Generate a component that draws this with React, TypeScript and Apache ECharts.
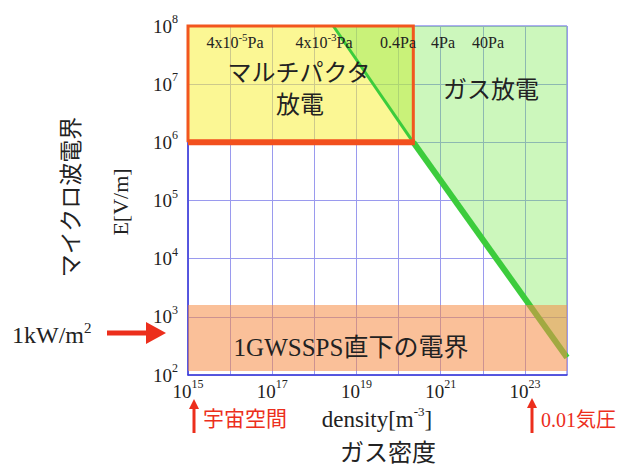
import React, { useEffect, useRef } from "react";
import * as echarts from "echarts";

// ---- data (density [m^-3], E [V/m]) ----
const xMin = 1e15;
const xMax = 1e24;
const yMin = 1e2;
const yMax = 1e8;
const xLabelExponents = [15, 17, 19, 21, 23];
const yLabelExponents = [2, 3, 4, 5, 6, 7, 8];

// breakdown line (gas discharge boundary)
const lineUpper: [number, number][] = [
  [2.82e18, 1e8],
  [2.24e20, 1e6],
];
const lineLower: [number, number][] = [
  [2.24e20, 1e6],
  [1e24, 200],
];
// gas discharge region (right of the line)
const gasRegion: [number, number][] = [
  [2.82e18, 1e8],
  [1e24, 1e8],
  [1e24, 200],
  [2.24e20, 1e6],
];
// multipactor box
const multipactorBox: [number, number][] = [
  [1e15, 1e6],
  [2.24e20, 1e8],
];
// field under 1GW SSPS
const sspsBand: [number, number][] = [
  [1e15, 117],
  [1e24, 1600],
];

const SERIF = "'Liberation Serif', 'DejaVu Serif', serif";
const JP = "'Noto Sans CJK JP', sans-serif";
const MIX = "'Liberation Serif', 'Noto Sans CJK JP', serif";
const RED = "#ec2e1c";

function polyItem(pts: [number, number][], style: any) {
  return (params: any, api: any) => ({
    type: "polygon",
    shape: { points: pts.map((p) => api.coord(p)) },
    style,
  });
}

function rectPts(box: [number, number][]): [number, number][] {
  const [[x0, y0], [x1, y1]] = box;
  return [
    [x0, y0],
    [x0, y1],
    [x1, y1],
    [x1, y0],
  ];
}

function supLabel(exp: number) {
  return `{b|10}{s|${exp}}`;
}

export default function App() {
  const ref = useRef<HTMLDivElement>(null);
  useEffect(() => {
    document.body.style.margin = "0";
    const chart = echarts.init(ref.current!, null, { renderer: "svg" });
    const supRich = {
      b: { fontFamily: SERIF, fontSize: 19, color: "#222", lineHeight: 26 },
      s: { fontFamily: SERIF, fontSize: 12, color: "#222", lineHeight: 12, verticalAlign: "top" },
    };
    const txtRich = (size: number, sup: number, color = "#222") => ({
      n: { fontFamily: SERIF, fontSize: size, fill: color, lineHeight: size + 6 },
      s: { fontFamily: SERIF, fontSize: sup, fill: color, lineHeight: sup, verticalAlign: "top" },
    });
    const paLabels: [string, number][] = [
      ["{n|4x10}{s|-5}{n|Pa}", 235],
      ["{n|4x10}{s|-3}{n|Pa}", 324],
      ["{n|0.4Pa}", 398],
      ["{n|4Pa}", 443],
      ["{n|40Pa}", 488],
    ];
    const option: any = {
      animation: false,
      grid: {
        left: 188,
        right: 57,
        top: 26,
        bottom: 94,
        show: true,
        borderColor: "#5a5ae6",
        borderWidth: 1,
        backgroundColor: "transparent",
      },
      xAxis: {
        type: "log",
        logBase: 10,
        min: xMin,
        max: xMax,
        interval: 1,
        axisLine: { show: true, lineStyle: { color: "#3c3cd8", width: 1.5 } },
        axisTick: { show: false },
        splitLine: { show: true, lineStyle: { color: "#9a9aee", width: 1 } },
        axisLabel: {
          margin: 3,
          formatter: (v: number) => {
            const e = Math.round(Math.log10(v));
            return xLabelExponents.includes(e) ? supLabel(e) : "";
          },
          rich: supRich,
        },
      },
      yAxis: {
        type: "log",
        logBase: 10,
        min: yMin,
        max: yMax,
        interval: 1,
        axisLine: { show: true, lineStyle: { color: "#3c3cd8", width: 1.5 } },
        axisTick: { show: false },
        splitLine: { show: true, lineStyle: { color: "#9a9aee", width: 1 } },
        axisLabel: {
          margin: 10,
          formatter: (v: number) => {
            const e = Math.round(Math.log10(v));
            return yLabelExponents.includes(e) ? supLabel(e) : "";
          },
          rich: supRich,
        },
      },
      series: [
        {
          type: "custom",
          z: 1,
          data: [multipactorBox[0]],
          renderItem: polyItem(rectPts(multipactorBox), { fill: "rgba(247,240,60,0.55)" }),
        },
        {
          type: "custom",
          z: 2,
          data: [gasRegion[0]],
          renderItem: polyItem(gasRegion, { fill: "rgba(120,235,80,0.38)" }),
        },
        {
          type: "line",
          z: 3,
          data: lineUpper,
          symbol: "none",
          lineStyle: { color: "#3ccc3c", width: 3 },
        },
        {
          type: "line",
          z: 3,
          data: lineLower,
          symbol: "none",
          lineStyle: { color: "#3ccc3c", width: 6 },
        },
        {
          type: "custom",
          z: 4,
          data: [sspsBand[0]],
          renderItem: polyItem(rectPts(sspsBand), { fill: "rgba(245,140,70,0.55)" }),
        },
        {
          type: "custom",
          z: 5,
          data: [multipactorBox[0]],
          renderItem: (params: any, api: any) => {
            const [[x0, y0], [x1, y1]] = multipactorBox;
            const a = api.coord([x0, y0]);
            const b = api.coord([x0, y1]);
            const c = api.coord([x1, y1]);
            const d = api.coord([x1, y0]);
            return {
              type: "group",
              children: [
                {
                  type: "polyline",
                  shape: { points: [a, b, c, d] },
                  style: { stroke: "#f2561e", lineWidth: 3, fill: "none" },
                },
                {
                  type: "line",
                  shape: { x1: a[0], y1: a[1], x2: d[0] + 1.5, y2: d[1] },
                  style: { stroke: "#f2501e", lineWidth: 6 },
                },
              ],
            };
          },
        },
      ],
      graphic: [
        ...paLabels.map(([t, x]) => ({
          type: "text",
          x,
          y: 42,
          z: 10,
          style: { text: t, rich: txtRich(16, 11), align: "center", verticalAlign: "middle" },
        })),
        { type: "text", x: 299, y: 70, z: 10, style: { text: "マルチパクタ", font: `24px ${JP}`, fill: "#222", align: "center", verticalAlign: "middle" } },
        { type: "text", x: 300, y: 102, z: 10, style: { text: "放電", font: `24px ${JP}`, fill: "#222", align: "center", verticalAlign: "middle" } },
        { type: "text", x: 491, y: 87, z: 10, style: { text: "ガス放電", font: `24px ${JP}`, fill: "#222", align: "center", verticalAlign: "middle" } },
        { type: "text", x: 351, y: 347, z: 10, style: { text: "1GWSSPS直下の電界", font: `25px ${MIX}`, fill: "#222", align: "center", verticalAlign: "middle" } },
        { type: "text", x: 69, y: 197, rotation: Math.PI / 2, style: { text: "マイクロ波電界", font: `23px ${JP}`, fill: "#222", align: "center", verticalAlign: "middle" } },
        { type: "text", x: 120, y: 202, rotation: Math.PI / 2, style: { text: "E[V/m]", font: `22px ${SERIF}`, fill: "#222", align: "center", verticalAlign: "middle" } },
        { type: "text", x: 12, y: 335, style: { text: "{n|1kW/m}{s|2}", rich: txtRich(24, 15), align: "left", verticalAlign: "middle" } },
        { type: "text", x: 377, y: 419, style: { text: "{n|density[m}{s|-3}{n|]}", rich: txtRich(23, 13), align: "center", verticalAlign: "middle" } },
        { type: "text", x: 388, y: 450, style: { text: "ガス密度", font: `24px ${JP}`, fill: "#222", align: "center", verticalAlign: "middle" } },
        { type: "text", x: 203, y: 417, style: { text: "宇宙空間", font: `21px ${JP}`, fill: RED, align: "left", verticalAlign: "middle" } },
        { type: "text", x: 541, y: 420, style: { text: "0.01気圧", font: `20px ${MIX}`, fill: RED, align: "left", verticalAlign: "middle" } },
        // arrows
        { type: "rect", shape: { x: 107, y: 330.5, width: 42, height: 5 }, style: { fill: RED } },
        { type: "polygon", shape: { points: [[146, 322], [166, 333], [146, 344]] }, style: { fill: RED } },
        { type: "rect", shape: { x: 192.5, y: 407, width: 3, height: 26 }, style: { fill: RED } },
        { type: "polygon", shape: { points: [[189, 409], [194, 399], [199, 409]] }, style: { fill: RED } },
        { type: "rect", shape: { x: 530.5, y: 406, width: 3, height: 27 }, style: { fill: RED } },
        { type: "polygon", shape: { points: [[527, 408], [532, 398], [537, 408]] }, style: { fill: RED } },
      ],
    };
    chart.setOption(option);
    return () => chart.dispose();
  }, []);
  return (
    <div
      ref={ref}
      style={{ position: "absolute", left: 0, top: 0, width: 624, height: 469, background: "#fff" }}
    />
  );
}
